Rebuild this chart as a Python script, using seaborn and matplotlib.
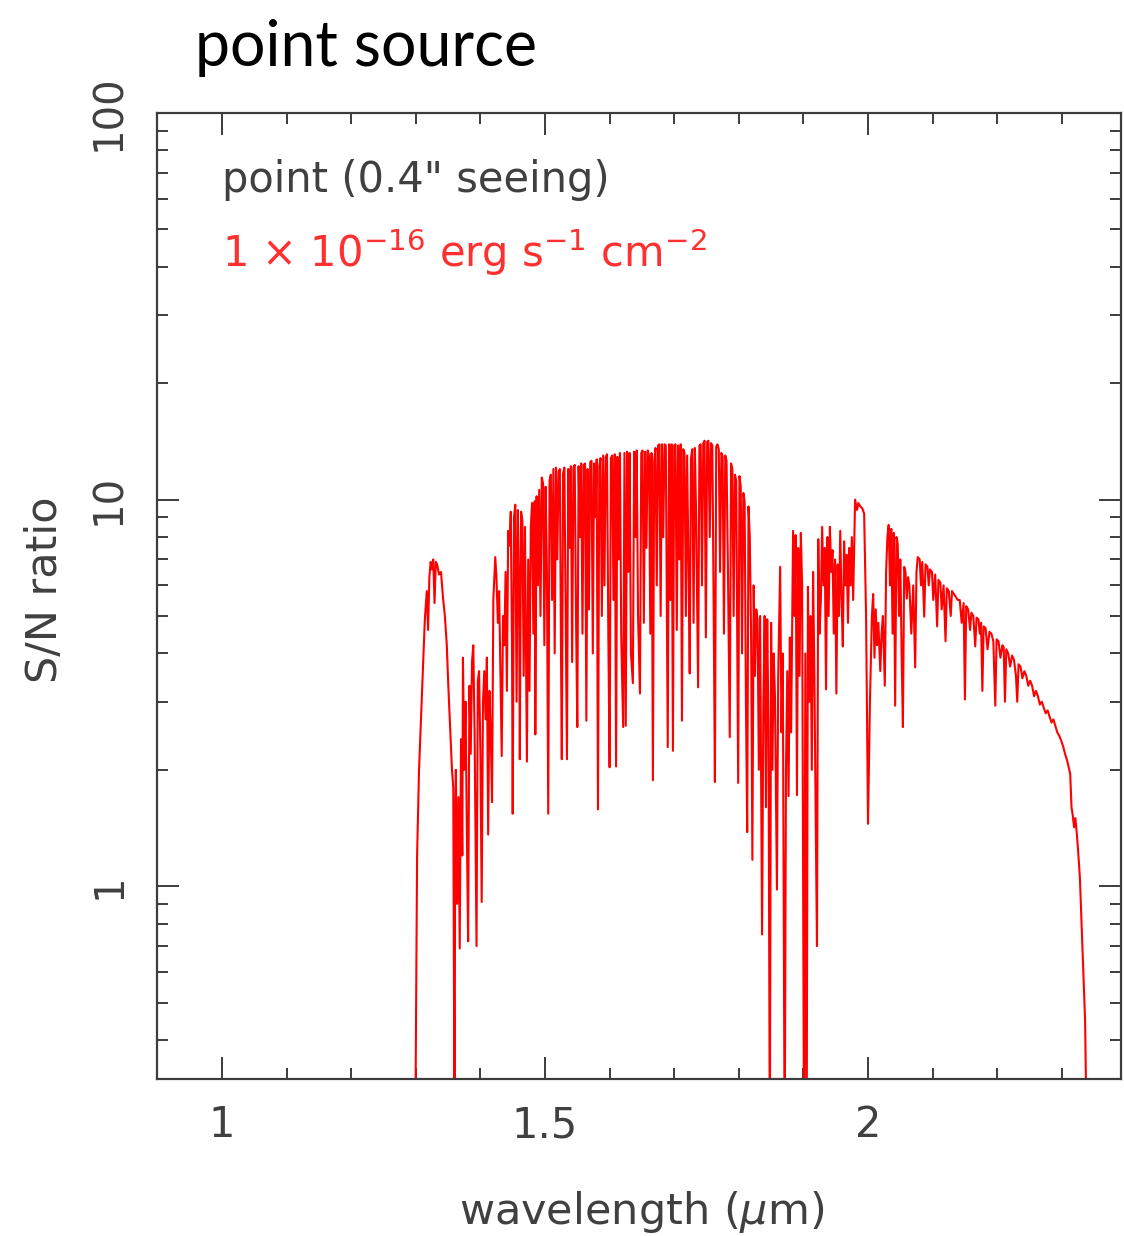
import matplotlib
matplotlib.use("Agg")
import matplotlib.pyplot as plt
from matplotlib.ticker import MultipleLocator, LogLocator, FuncFormatter, NullFormatter
import numpy as np
import pandas as pd
import seaborn as sns

# ---------------- data (wavelength [um], S/N) ----------------
seg_j = [
    (1.299, 0.2), (1.302, 1.2), (1.305, 2.0), (1.308, 2.7), (1.311, 3.6), (1.314, 4.9),
    (1.317, 5.8), (1.319, 4.6), (1.321, 6.3), (1.323, 6.9), (1.325, 6.6), (1.327, 7.0),
    (1.329, 5.4), (1.331, 6.9), (1.333, 6.8), (1.336, 6.4), (1.339, 6.5), (1.342, 5.6),
    (1.345, 5.0), (1.348, 4.2), (1.350, 3.4), (1.353, 2.6), (1.356, 2.0), (1.358, 1.8),
    (1.360, 0.2), (1.361, 1.5), (1.362, 2.0), (1.364, 0.9), (1.366, 1.7), (1.368, 0.69),
    (1.370, 2.4), (1.372, 1.2), (1.373, 3.9), (1.375, 2.0), (1.377, 3.0), (1.379, 1.4),
    (1.381, 0.72), (1.383, 3.3), (1.385, 2.2), (1.387, 3.8), (1.389, 4.2), (1.391, 2.5),
    (1.394, 0.70), (1.396, 3.4), (1.398, 3.6), (1.400, 2.2), (1.402, 0.91), (1.404, 3.0),
    (1.406, 3.6), (1.408, 2.7), (1.410, 3.9), (1.412, 1.36), (1.414, 3.2), (1.416, 2.5),
    (1.418, 1.65),
]

seg_h = [
    (1.420, 5.5), (1.423, 7.1), (1.425, 6.2), (1.427, 4.8), (1.429, 5.8), (1.431, 3.5),
    (1.433, 2.17), (1.435, 5.0), (1.437, 4.2), (1.439, 6.5), (1.441, 3.2), (1.443, 8.3),
    (1.445, 7.6), (1.447, 9.3), (1.449, 4.0), (1.450, 1.54), (1.452, 9.0), (1.454, 9.7),
    (1.456, 3.0), (1.458, 9.4), (1.460, 5.5), (1.461, 2.13), (1.463, 9.3), (1.465, 8.8),
    (1.467, 3.5), (1.469, 8.5), (1.472, 2.1), (1.474, 7.0), (1.476, 3.2), (1.478, 8.5),
    (1.480, 9.8), (1.482, 4.5), (1.484, 9.9), (1.485, 2.47), (1.487, 10.2), (1.489, 6.0),
    (1.491, 10.6), (1.493, 5.0), (1.495, 11.4), (1.497, 11.0), (1.499, 4.2), (1.501, 10.8),
    (1.503, 6.5), (1.505, 1.54), (1.507, 11.2), (1.509, 11.6), (1.511, 5.5), (1.513, 12.0),
    (1.515, 4.0), (1.517, 12.1), (1.519, 7.0), (1.521, 11.8), (1.523, 12.0), (1.525, 3.5),
    (1.526, 2.13), (1.528, 11.7), (1.530, 12.1), (1.532, 5.0), (1.534, 2.13), (1.536, 12.0),
    (1.538, 7.5), (1.540, 12.2), (1.542, 3.8), (1.544, 12.1), (1.546, 12.3), (1.548, 5.0),
    (1.550, 2.58), (1.552, 12.2), (1.554, 8.0), (1.556, 12.4), (1.558, 4.5), (1.560, 12.3),
    (1.562, 12.4), (1.564, 2.68), (1.566, 12.0), (1.568, 5.2), (1.570, 12.5), (1.572, 12.6),
    (1.574, 4.0), (1.576, 12.4), (1.578, 9.0), (1.580, 12.7), (1.582, 1.58), (1.584, 12.2),
    (1.586, 12.8), (1.588, 5.0), (1.590, 13.0), (1.592, 6.0), (1.594, 12.9), (1.596, 13.1),
    (1.598, 4.5), (1.600, 2.03), (1.602, 12.8), (1.604, 13.0), (1.606, 5.5), (1.608, 13.1),
    (1.610, 2.04), (1.612, 12.9), (1.614, 7.0), (1.616, 13.2), (1.618, 4.4), (1.621, 2.58),
    (1.623, 13.2), (1.625, 2.6), (1.627, 13.3), (1.629, 6.5), (1.631, 13.2), (1.633, 4.0),
    (1.636, 3.35), (1.638, 13.3), (1.640, 8.0), (1.642, 13.4), (1.644, 5.0), (1.647, 3.15),
    (1.649, 13.2), (1.651, 13.4), (1.653, 4.8), (1.655, 13.3), (1.657, 7.5), (1.659, 13.4),
    (1.661, 13.0), (1.663, 4.5), (1.665, 13.2), (1.667, 1.88), (1.669, 12.5), (1.671, 13.6),
    (1.673, 6.0), (1.675, 13.8), (1.677, 13.9), (1.679, 5.0), (1.681, 13.9), (1.683, 8.0),
    (1.685, 13.9), (1.687, 13.8), (1.690, 2.29), (1.692, 13.9), (1.694, 5.5), (1.696, 13.9),
    (1.698, 2.24), (1.700, 13.8), (1.702, 13.9), (1.704, 4.6), (1.706, 13.8), (1.708, 7.0),
    (1.710, 13.9), (1.712, 2.68), (1.714, 13.5), (1.716, 13.2), (1.718, 5.0), (1.720, 13.0),
    (1.722, 7.0), (1.724, 3.55), (1.726, 12.8), (1.728, 13.5), (1.730, 4.8), (1.732, 13.6),
    (1.734, 9.0), (1.737, 3.27), (1.739, 13.8), (1.741, 13.9), (1.743, 6.0), (1.745, 14.0),
    (1.747, 14.2), (1.749, 4.4), (1.751, 14.1), (1.753, 14.2), (1.755, 8.0), (1.757, 14.0),
    (1.759, 13.8), (1.761, 5.5), (1.763, 1.86), (1.765, 13.7), (1.767, 13.9), (1.769, 13.5),
    (1.771, 6.5), (1.773, 13.2), (1.775, 12.9), (1.777, 4.5), (1.779, 13.0), (1.781, 12.6),
    (1.783, 7.0), (1.786, 2.43), (1.788, 12.4), (1.790, 12.0), (1.792, 5.0), (1.794, 11.6),
    (1.796, 11.2), (1.799, 1.85), (1.801, 11.5), (1.803, 10.8), (1.805, 4.0), (1.807, 10.4),
    (1.809, 9.9), (1.811, 3.0), (1.813, 1.38), (1.815, 9.6), (1.817, 8.0), (1.819, 4.5),
    (1.821, 1.17), (1.823, 6.0), (1.825, 3.5), (1.827, 5.2), (1.829, 4.9),
]

seg_gap = [
    (1.831, 2.0), (1.833, 5.0), (1.836, 0.75), (1.838, 3.0), (1.840, 5.0), (1.842, 1.6),
    (1.844, 4.9), (1.846, 2.5), (1.848, 0.2), (1.850, 4.8), (1.852, 2.0), (1.854, 4.0),
    (1.856, 3.08), (1.859, 0.98), (1.861, 3.5), (1.864, 6.7), (1.866, 2.5), (1.868, 4.0),
    (1.871, 0.2), (1.873, 2.0), (1.875, 3.6), (1.877, 1.71), (1.879, 4.4), (1.881, 2.5),
    (1.884, 8.3), (1.886, 5.0), (1.888, 8.1), (1.890, 1.72), (1.892, 7.5), (1.894, 3.5),
    (1.896, 8.2), (1.898, 6.0), (1.901, 0.2), (1.903, 4.0), (1.905, 0.2), (1.907, 5.95),
    (1.909, 3.0), (1.911, 5.0), (1.913, 2.0), (1.915, 6.5), (1.917, 3.5), (1.919, 1.5),
    (1.921, 0.70), (1.923, 7.9), (1.925, 4.5), (1.927, 5.5), (1.929, 8.5), (1.931, 6.0),
    (1.933, 7.5), (1.935, 3.23), (1.937, 8.0), (1.939, 5.0), (1.941, 8.5), (1.943, 6.5),
    (1.945, 7.4), (1.947, 4.5), (1.949, 7.0), (1.951, 3.15), (1.953, 6.8), (1.955, 5.0),
    (1.957, 8.3), (1.959, 5.5), (1.961, 4.17), (1.963, 7.8), (1.965, 6.0), (1.967, 7.2),
    (1.969, 4.8), (1.971, 7.5), (1.973, 6.0), (1.975, 8.0), (1.977, 5.5), (1.980, 10.0),
    (1.983, 9.4), (1.985, 9.8), (1.988, 9.6), (1.991, 9.5), (1.994, 9.2), (1.997, 5.0),
]

seg_k = [
    (2.000, 1.45), (2.003, 3.0), (2.006, 5.0), (2.008, 5.7), (2.010, 3.9), (2.012, 5.2),
    (2.014, 4.2), (2.016, 4.8), (2.019, 3.6), (2.021, 4.5), (2.023, 5.0), (2.026, 3.3),
    (2.028, 6.5), (2.030, 8.0), (2.032, 8.6), (2.034, 6.0), (2.036, 8.4), (2.038, 4.5),
    (2.040, 8.2), (2.042, 2.93), (2.044, 8.0), (2.046, 7.7), (2.048, 5.0), (2.050, 7.0),
    (2.052, 4.0), (2.054, 2.58), (2.056, 6.7), (2.058, 6.5), (2.060, 5.55), (2.062, 6.3),
    (2.064, 6.0), (2.067, 4.5), (2.070, 6.0), (2.073, 3.68), (2.075, 6.5), (2.077, 7.1),
    (2.080, 7.0), (2.082, 6.0), (2.084, 6.9), (2.087, 4.98), (2.089, 6.8), (2.092, 6.7),
    (2.094, 6.0), (2.096, 6.6), (2.099, 6.5), (2.101, 5.5), (2.104, 6.4), (2.107, 4.7),
    (2.109, 6.2), (2.112, 6.1), (2.114, 5.2), (2.117, 6.0), (2.120, 4.3), (2.122, 5.9),
    (2.125, 5.8), (2.128, 5.0), (2.130, 5.8), (2.133, 5.7), (2.136, 5.6), (2.139, 5.5),
    (2.142, 5.5), (2.145, 4.8), (2.148, 5.4), (2.150, 3.04), (2.152, 5.3), (2.155, 5.2),
    (2.158, 4.6), (2.160, 5.1), (2.163, 5.0), (2.166, 4.17), (2.168, 4.95), (2.171, 4.9),
    (2.173, 4.5), (2.175, 4.8), (2.177, 3.2), (2.179, 4.7), (2.182, 4.65), (2.185, 4.1),
    (2.188, 4.55), (2.191, 4.5), (2.194, 4.3), (2.197, 2.93), (2.199, 4.35), (2.202, 4.3),
    (2.205, 3.9), (2.208, 4.2), (2.210, 4.15), (2.212, 3.0), (2.214, 4.1), (2.217, 4.0),
    (2.220, 3.7), (2.223, 3.95), (2.226, 3.85), (2.229, 3.5), (2.231, 3.0), (2.233, 3.75),
    (2.236, 3.7), (2.239, 3.45), (2.242, 3.6), (2.245, 3.5), (2.248, 3.3), (2.251, 3.4),
    (2.254, 3.3), (2.257, 3.1), (2.260, 3.2), (2.263, 3.1), (2.266, 2.95), (2.269, 3.0),
    (2.272, 2.9), (2.275, 2.8), (2.278, 2.85), (2.281, 2.75), (2.284, 2.65), (2.287, 2.7),
    (2.290, 2.6), (2.293, 2.5), (2.296, 2.45), (2.299, 2.38), (2.302, 2.3), (2.305, 2.2),
    (2.308, 2.12), (2.311, 2.02), (2.313, 1.95), (2.315, 1.6), (2.317, 1.52), (2.319, 1.42),
    (2.321, 1.5), (2.323, 1.38), (2.325, 1.25), (2.328, 1.05), (2.330, 0.85), (2.333, 0.62),
    (2.336, 0.45), (2.339, 0.2),
]

x_major_ticks = [1.0, 1.5, 2.0]
title_text = "point source"
note_text = 'point (0.4" seeing)'
flux_text = r"1 $\times$ 10$^{-16}$ erg s$^{-1}$ cm$^{-2}$"

df = pd.DataFrame(seg_j + seg_h + seg_gap + seg_k, columns=["wavelength", "sn"])

# ---------------- figure ----------------
sns.set_theme(style="white")
plt.rcParams["font.family"] = ["DejaVu Sans"]
plt.rcParams["mathtext.fontset"] = "dejavusans"

W, H = 1124, 1236
fig = plt.figure(figsize=(W / 100, H / 100), dpi=100)
fig.patch.set_facecolor("white")
L, R, T, B = 157, 1121, 113, 1079
ax = fig.add_axes([L / W, 1 - B / H, (R - L) / W, (B - T) / H])

sns.lineplot(data=df, x="wavelength", y="sn", ax=ax, color="#ff0000",
             linewidth=1.5, estimator=None, sort=False)

ax.set_yscale("log")
ax.set_xlim(0.8994, 2.3916)
ax.set_ylim(10 ** -0.4987, 100)

axis_col = "#3c3c3c"
for s in ax.spines.values():
    s.set_color(axis_col)
    s.set_linewidth(1.6)
    s.set_visible(True)

ax.xaxis.set_major_locator(MultipleLocator(0.5))
ax.xaxis.set_minor_locator(MultipleLocator(0.1))
ax.xaxis.set_major_formatter(FuncFormatter(lambda v, p: f"{v:g}"))
ax.yaxis.set_major_locator(LogLocator(base=10))
ax.yaxis.set_minor_locator(LogLocator(base=10, subs=np.arange(2, 10)))
ax.yaxis.set_major_formatter(FuncFormatter(lambda v, p: f"{v:g}"))
ax.yaxis.set_minor_formatter(NullFormatter())

ax.tick_params(which="both", direction="in", top=True, right=True, bottom=True, left=True,
               color=axis_col, width=1.4)
ax.tick_params(which="major", length=16)
ax.tick_params(which="minor", length=8)
ax.tick_params(axis="x", which="major", labelsize=30, labelcolor="#404040", pad=18)
ax.tick_params(axis="y", which="major", labelsize=29, labelcolor="#404040", pad=20)
for t in ax.get_yticklabels():
    t.set_rotation(90)
    t.set_va("center")

ax.set_xlabel("")
ax.set_ylabel("")
ax.grid(False)

fig.text(45 / W, 1 - 590 / H, "S/N ratio", rotation=90, ha="center", va="center",
         fontsize=31, color="#404040")
fig.text(642 / W, 1 - 1212 / H, r"wavelength ($\mu$m)", ha="center", va="center",
         fontsize=31, color="#404040")

fig.text(195 / W, 1 - 66 / H, title_text, ha="left", va="baseline",
         fontsize=45, color="black", family=["Lato", "DejaVu Sans"])

ax.text(222 / W, 1 - 192 / H, note_text, transform=fig.transFigure, ha="left",
        va="baseline", fontsize=30, color="#404040")
ax.text(222 / W, 1 - 267 / H, flux_text, transform=fig.transFigure, ha="left",
        va="baseline", fontsize=30, color="#ff3030")

fig.savefig("out.png", dpi=100, facecolor="white")
